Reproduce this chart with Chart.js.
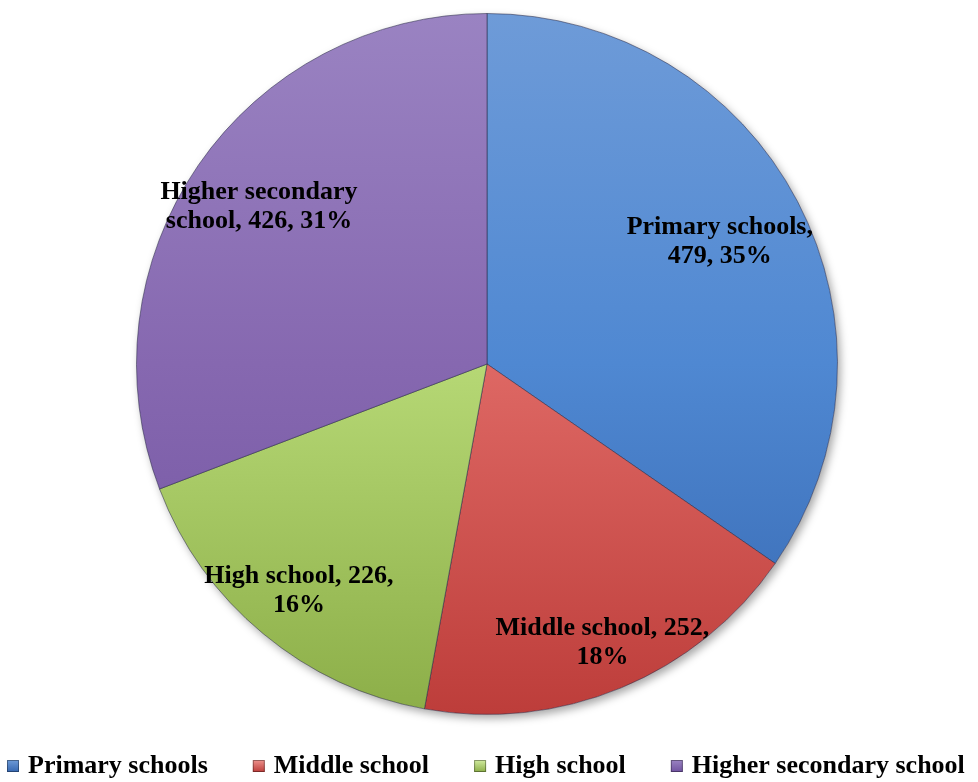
<!DOCTYPE html>
<html>
<head>
<meta charset="utf-8">
<script src="https://cdn.jsdelivr.net/npm/chart.js@4.4.0/dist/chart.umd.min.js"></script>
<style>
  html, body { margin: 0; padding: 0; background: #ffffff; }
  #wrap { width: 978px; height: 782px; position: relative; }
</style>
</head>
<body>
<div id="wrap"><canvas id="pie"></canvas></div>
<script>
const categories = ["Primary schools", "Middle school", "High school", "Higher secondary school"];
const counts = [479, 252, 226, 426];

// gradient stops (top, middle, bottom) for each slice
const sliceColors = [
  ["#6e9bd8", "#4f88d2", "#3667b0"], // Primary
  ["#ee928d", "#de6864", "#bd3d3a"], // Middle
  ["#d2eca0", "#b6d875", "#8cae48"], // High
  ["#9a83c2", "#8668b0", "#7052a0"], // Higher secondary
];
const labelRadius = [0.75, 0.86, 0.84, 0.79];
const FONT = "'Liberation Serif', 'Times New Roman', serif";

const total = counts.reduce((a, b) => a + b, 0);

function gradientFor(chart, i) {
  const area = chart.chartArea;
  if (!area) return sliceColors[i][1];
  const g = chart.ctx.createLinearGradient(0, area.top, 0, area.bottom);
  g.addColorStop(0, sliceColors[i][0]);
  g.addColorStop(0.5, sliceColors[i][1]);
  g.addColorStop(1, sliceColors[i][2]);
  return g;
}

function wrapText(ctx, text, maxW) {
  const words = text.split(" ");
  const lines = [];
  let cur = "";
  words.forEach((w) => {
    const test = cur ? cur + " " + w : w;
    if (cur && ctx.measureText(test).width > maxW) {
      lines.push(cur);
      cur = w;
    } else {
      cur = test;
    }
  });
  if (cur) lines.push(cur);
  return lines;
}

const shadowPlugin = {
  id: "pieShadow",
  beforeDatasetsDraw(chart) {
    const arc = chart.getDatasetMeta(0).data[0];
    if (!arc) return;
    const ctx = chart.ctx;
    ctx.save();
    ctx.shadowColor = "rgba(0,0,0,0.35)";
    ctx.shadowBlur = 9;
    ctx.shadowOffsetX = 3;
    ctx.shadowOffsetY = 4;
    ctx.fillStyle = "#ffffff";
    ctx.beginPath();
    ctx.arc(arc.x, arc.y, arc.outerRadius, 0, Math.PI * 2);
    ctx.fill();
    ctx.restore();
  },
};

const sliceLabels = {
  id: "sliceLabels",
  afterDatasetsDraw(chart) {
    const ctx = chart.ctx;
    const meta = chart.getDatasetMeta(0);
    ctx.save();
    ctx.font = "bold 26px " + FONT;
    ctx.fillStyle = "#000000";
    ctx.textAlign = "center";
    ctx.textBaseline = "middle";
    meta.data.forEach((arc, i) => {
      const pct = Math.round((counts[i] / total) * 100);
      const text = categories[i] + ", " + counts[i] + ", " + pct + "%";
      const lines = wrapText(ctx, text, 228);
      const mid = (arc.startAngle + arc.endAngle) / 2;
      const r = arc.outerRadius * labelRadius[i];
      const cx = arc.x + Math.cos(mid) * r;
      const cy = arc.y + Math.sin(mid) * r;
      const lh = 29;
      lines.forEach((ln, k) => {
        ctx.fillText(ln, cx, cy + (k - (lines.length - 1) / 2) * lh);
      });
    });
    ctx.restore();
  },
};

const bottomLegend = {
  id: "bottomLegend",
  afterDraw(chart) {
    const ctx = chart.ctx;
    ctx.save();
    ctx.font = "bold 26px " + FONT;
    ctx.textBaseline = "middle";
    ctx.textAlign = "left";
    const y = 766;
    let x = 7;
    categories.forEach((name, i) => {
      const g = ctx.createLinearGradient(0, y - 6, 0, y + 6);
      g.addColorStop(0, sliceColors[i][0]);
      g.addColorStop(1, sliceColors[i][2]);
      ctx.fillStyle = g;
      ctx.fillRect(x, y - 6, 12, 12);
      ctx.strokeStyle = "rgba(0,0,0,0.35)";
      ctx.lineWidth = 1;
      ctx.strokeRect(x + 0.5, y - 5.5, 11, 11);
      ctx.fillStyle = "#000000";
      ctx.fillText(name, x + 21, y);
      x += 21 + ctx.measureText(name).width + 45;
    });
    ctx.restore();
  },
};

new Chart(document.getElementById("pie"), {
  type: "pie",
  data: {
    labels: categories,
    datasets: [
      {
        data: counts,
        backgroundColor: (c) => gradientFor(c.chart, c.dataIndex),
        borderColor: "rgba(40,40,70,0.55)",
        borderWidth: 1,
        hoverOffset: 0,
      },
    ],
  },
  options: {
    responsive: true,
    maintainAspectRatio: false,
    animation: false,
    layout: { padding: { top: 13, bottom: 67, left: 0, right: 4 } },
    plugins: {
      legend: { display: false },
      tooltip: { enabled: false },
    },
  },
  plugins: [shadowPlugin, sliceLabels, bottomLegend],
});
</script>
</body>
</html>
